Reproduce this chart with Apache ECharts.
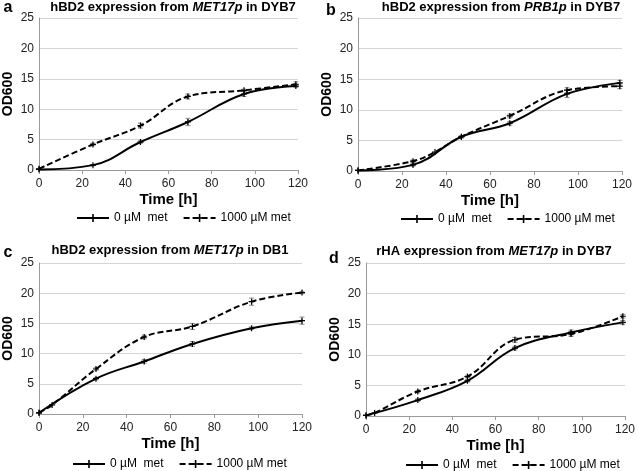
<!DOCTYPE html>
<html>
<head>
<meta charset="utf-8">
<script src="https://cdn.jsdelivr.net/npm/echarts@6/dist/echarts.min.js"></script>
<style>
  body { margin: 0; background: #fff; }
  #chart { width: 638px; height: 471px; }
</style>
</head>
<body>
<div id="chart"></div>
<script>
// time points [h] and OD600 values
const hoursA = [0, 25, 47, 69, 95, 119];
const aMet0 = [0.1, 0.8, 4.6, 7.9, 12.5, 13.8];
const aMet0Err = [0, 0.1, 0.2, 0.6, 0.4, 0.2];
const aMet1000 = [0.2, 4.2, 7.3, 12.1, 13.1, 14.1];
const aMet1000Err = [0, 0.2, 0.4, 0.4, 0.2, 0.4];

const hoursB = [0, 25, 47, 69, 95, 119];
const bMet0 = [0.1, 1.0, 5.6, 7.8, 12.6, 14.4];
const bMet0Err = [0, 0.2, 0.2, 0.3, 0.6, 0.4];
const hoursB1000 = [0, 25, 35, 47, 69, 95, 119];
const bMet1000 = [0.1, 1.6, 3.1, 5.6, 9.0, 13.2, 13.85];
const bMet1000Err = [0, 0.2, 0, 0.2, 0.3, 0.4, 0.4];

const hoursC = [0, 26, 48, 70, 97, 120];
const cMet0 = [0.2, 5.85, 8.7, 11.6, 14.2, 15.45];
const cMet0Err = [0, 0.2, 0.3, 0.4, 0.2, 0.6];
const hoursC1000 = [0, 6, 26, 48, 70, 97, 120];
const cMet1000 = [0.2, 1.5, 7.45, 12.75, 14.5, 18.6, 20.1];
const cMet1000Err = [0, 0, 0.2, 0.3, 0.5, 0.6, 0.2];

const hoursD = [0, 24, 47, 69, 95, 119];
const dMet0 = [0.1, 2.6, 5.75, 11.1, 13.65, 15.3];
const dMet0Err = [0, 0.2, 0.2, 0.3, 0.4, 0.3];
const hoursD1000 = [0, 4, 24, 47, 69, 95, 119];
const dMet1000 = [0.1, 0.5, 4.0, 6.45, 12.45, 13.4, 16.3];
const dMet1000Err = [0, 0, 0.2, 0.2, 0.4, 0.4, 0.3];

const xTicks = [0, 20, 40, 60, 80, 100, 120];
const yTicks = [0, 5, 10, 15, 20, 25];

const name0 = '0 µM  met';
const name1000 = '1000 µM met';

const FONT = 'Liberation Sans, Arial, sans-serif';
const plus = 'path://M2,0H3V2H5V3H3V5H2V3H0V2H2Z';

const panels = [
  { title: ['hBD2 expression from ', 'MET17p', ' in DYB7'], letter: 'a', lx: 8, ly: 8, tx: 173, ty: 7,
    grid: { left: 37, top: 18, width: 261, height: 152 }, legend: { left: 71, top: 207 },
    s0: [hoursA, aMet0, aMet0Err], s1: [hoursA, aMet1000, aMet1000Err] },
  { title: ['hBD2 expression from ', 'PRB1p', ' in DYB7'], letter: 'b', lx: 331, ly: 11, tx: 501, ty: 7,
    grid: { left: 358, top: 18, width: 264, height: 153 }, legend: { left: 395, top: 208 },
    s0: [hoursB, bMet0, bMet0Err], s1: [hoursB1000, bMet1000, bMet1000Err] },
  { title: ['hBD2 expression from ', 'MET17p', ' in DB1'], letter: 'c', lx: 8, ly: 253, tx: 170, ty: 250,
    grid: { left: 37, top: 263, width: 265, height: 151 }, legend: { left: 67, top: 453 },
    s0: [hoursC, cMet0, cMet0Err], s1: [hoursC1000, cMet1000, cMet1000Err] },
  { title: ['rHA expression from ', 'MET17p', ' in DYB7'], letter: 'd', lx: 334, ly: 259, tx: 494, ty: 251,
    grid: { left: 366, top: 263, width: 260, height: 153 }, legend: { left: 400, top: 454 },
    s0: [hoursD, dMet0, dMet0Err], s1: [hoursD1000, dMet1000, dMet1000Err] }
];

function errorSeries(idx, hours, vals, errs) {
  return {
    type: 'custom',
    xAxisIndex: idx,
    yAxisIndex: idx,
    silent: true,
    z: 1,
    data: hours.map((h, i) => [h, vals[i] - errs[i], vals[i] + errs[i]]).filter((d, i) => errs[i] > 0),
    renderItem(params, api) {
      const lo = api.coord([api.value(0), api.value(1)]);
      const hi = api.coord([api.value(0), api.value(2)]);
      const w = 2.5;
      const style = { stroke: '#8c8c8c', lineWidth: 1 };
      return {
        type: 'group',
        children: [
          { type: 'line', shape: { x1: lo[0], y1: lo[1], x2: hi[0], y2: hi[1] }, style },
          { type: 'line', shape: { x1: lo[0] - w, y1: lo[1], x2: lo[0] + w, y2: lo[1] }, style },
          { type: 'line', shape: { x1: hi[0] - w, y1: hi[1], x2: hi[0] + w, y2: hi[1] }, style }
        ]
      };
    }
  };
}

function lineSeries(idx, name, hours, vals, dashed) {
  return {
    name: name,
    type: 'line',
    xAxisIndex: idx,
    yAxisIndex: idx,
    smooth: 0.4,
    z: 3,
    data: hours.map((h, i) => [h, vals[i]]),
    symbol: plus,
    symbolSize: 6,
    showSymbol: true,
    itemStyle: { color: '#000' },
    lineStyle: { color: '#000', width: 2, type: dashed ? [6, 3] : 'solid' }
  };
}

const grids = [], xAxes = [], yAxes = [], legends = [], series = [], graphics = [];

panels.forEach((p, i) => {
  grids.push(p.grid);
  xAxes.push({
    type: 'value', gridIndex: i, min: 0, max: 120, interval: 20,
    name: 'Time [h]', nameLocation: 'middle', nameGap: 22,
    nameTextStyle: { fontFamily: FONT, fontWeight: 'bold', fontSize: 15, color: '#000' },
    axisLine: { lineStyle: { color: '#9a9a9a' } },
    axisTick: { show: true, length: 4, lineStyle: { color: '#9a9a9a' } },
    axisLabel: { fontFamily: FONT, fontSize: 12, color: '#222', margin: 8,
      formatter: v => xTicks.includes(v) ? String(v) : '' },
    splitLine: { show: false }
  });
  yAxes.push({
    type: 'value', gridIndex: i, min: 0, max: 25, interval: 5,
    name: 'OD600', nameLocation: 'middle', nameGap: 24, nameRotate: 90,
    nameTextStyle: { fontFamily: FONT, fontWeight: 'bold', fontSize: 14, color: '#000' },
    axisLine: { show: true, lineStyle: { color: '#9a9a9a' } },
    axisTick: { show: false },
    axisLabel: { fontFamily: FONT, fontSize: 12, color: '#222', margin: 5,
      formatter: v => yTicks.includes(v) ? String(v) : '' },
    splitLine: { lineStyle: { color: '#d4d4d4' } }
  });
  legends.push({
    left: p.legend.left, top: p.legend.top,
    data: [name0, name1000],
    itemWidth: 32, itemHeight: 10, itemGap: 15,
    textStyle: { fontFamily: FONT, fontSize: 12, color: '#000' },
    selectedMode: false
  });
  series.push(errorSeries(i, p.s0[0], p.s0[1], p.s0[2]));
  series.push(errorSeries(i, p.s1[0], p.s1[1], p.s1[2]));
  series.push(lineSeries(i, name0, p.s0[0], p.s0[1], false));
  series.push(lineSeries(i, name1000, p.s1[0], p.s1[1], true));
  graphics.push({
    type: 'text', x: p.tx, y: p.ty,
    style: {
      text: '{b|' + p.title[0] + '}{i|' + p.title[1] + '}{b|' + p.title[2] + '}',
      align: 'center', verticalAlign: 'middle',
      rich: {
        b: { fontFamily: FONT, fontWeight: 'bold', fontSize: 13, fill: '#000' },
        i: { fontFamily: FONT, fontWeight: 'bold', fontStyle: 'italic', fontSize: 13, fill: '#000' }
      }
    }
  });
  graphics.push({
    type: 'text', x: p.lx, y: p.ly,
    style: { text: p.letter, font: 'bold 16px ' + FONT, fill: '#000', align: 'center', verticalAlign: 'middle' }
  });
});

const chart = echarts.init(document.getElementById('chart'));
chart.setOption({
  animation: false,
  grid: grids,
  xAxis: xAxes,
  yAxis: yAxes,
  legend: legends,
  series: series,
  graphic: graphics
});
</script>
</body>
</html>
